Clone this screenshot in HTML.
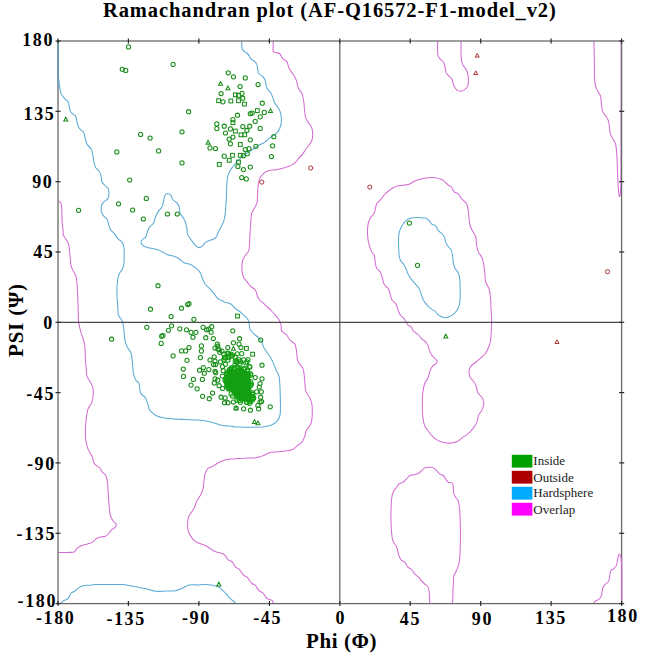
<!DOCTYPE html><html><head><meta charset="utf-8"><style>
html,body{margin:0;padding:0;background:#fff;width:645px;height:660px;overflow:hidden;position:relative}
.t{position:absolute;font-family:"Liberation Serif",serif;font-weight:bold;color:#000;white-space:nowrap;line-height:1}
.yl{text-align:right;width:60px}
.xl{text-align:center;width:60px}
.lg{position:absolute;font-family:"Liberation Serif",serif;font-size:13px;color:#222;line-height:1;white-space:nowrap}
</style></head><body>
<svg width="645" height="660" viewBox="0 0 645 660" style="position:absolute;left:0;top:0">
<path d="M58,41C58,42.9 58,48.8 58,52.7C58,56.6 58,60.4 58,64.3C58,68.2 57.9,73.4 58,76C58.1,78.6 58.5,78 58.8,80C59.1,82 59.4,85.9 59.8,88.2C60.2,90.5 60.3,91.9 61.1,93.6C61.9,95.3 63.4,97 64.5,98.4C65.7,99.8 67.2,100.4 68,101.8C68.8,103.2 68.8,104.9 69.3,106.6C69.8,108.3 69.7,110.4 70.7,112C71.7,113.6 74.5,114.6 75.5,116.1C76.5,117.6 76.2,119 76.8,120.9C77.4,122.8 77.8,125.8 78.9,127.7C80,129.6 82.6,130.9 83.6,132.5C84.6,134.1 84.4,135.4 85,137.3C85.6,139.2 86,142.2 87,144.1C88,146 90.2,147.3 91.1,148.9C92,150.5 92,151.4 92.5,153.6C93,155.8 93.5,159.9 93.9,161.8C94.3,163.7 94.4,164 94.7,165C95,166 95,166.8 95.8,167.8C96.5,168.9 98.3,170.1 99.2,171.3C100.1,172.5 100.4,173.4 100.9,175.2C101.4,177 101.3,180.3 102,182C102.7,183.7 103.9,184.3 104.9,185.5C106,186.7 107.6,187.4 108.3,188.9C109,190.4 109,192.8 108.9,194.5C108.8,196.2 108.6,197.9 107.7,199.1C106.8,200.3 104.8,200.8 103.8,201.9C102.8,203 101.9,204.3 101.5,205.9C101.1,207.5 101.1,209.9 101.5,211.6C101.9,213.3 102.8,214.8 103.8,216.1C104.8,217.4 106.3,218 107.2,219.5C108.1,221 108.3,223.5 108.9,225.2C109.5,226.9 109.8,228.5 110.6,229.8C111.4,231.1 113,232.1 114,233.2C115,234.3 115.6,235.6 116.3,236.6C117,237.6 117.1,238 118,238.9C118.9,239.8 120.9,240.8 121.9,242.1C122.9,243.4 123.4,244.6 123.8,246.6C124.2,248.6 124.2,251.3 124.2,254.3C124.2,257.3 124.2,262 123.8,264.6C123.4,267.2 122.7,268.3 121.9,269.8C121.2,271.3 120,272.2 119.3,273.7C118.6,275.2 118.2,276.7 117.8,278.8C117.4,280.9 117.1,283.5 117,286.5C116.9,289.5 116.9,293.4 117,296.9C117.1,300.3 117.6,304.2 117.8,307.2C118,310.2 117.7,312.6 118.4,315C119.2,317.4 121.4,319 122.3,321.4C123.2,323.8 123.5,326.4 123.9,329.3C124.3,332.2 124.2,336 124.7,338.9C125.2,341.8 126,344.4 127.1,346.8C128.2,349.2 130.2,350.6 131.1,353.2C132,355.8 132,359.2 132.4,362.7C132.8,366.1 132.9,371 133.5,373.9C134.1,376.8 135,378.6 135.9,380.2C136.8,381.8 138.2,381.3 139,383.4C139.8,385.5 139.5,390.6 140.6,393C141.7,395.4 144.2,395.8 145.4,397.7C146.6,399.6 147.1,402.1 147.8,404.1C148.5,406.1 148.5,408.1 149.4,409.7C150.3,411.3 152.1,412.6 153.4,413.6C154.7,414.7 155.7,415.4 157,416C158.3,416.6 158.7,416.7 161,417.2C163.3,417.7 168.2,418.5 171.1,418.8C174,419.1 175.8,419.1 178.1,419.2C180.5,419.3 182.7,419.5 185.2,419.6C187.7,419.7 190.6,419.8 193.3,419.9C196,420 198.4,419.8 201.4,420.2C204.4,420.6 208.2,421.4 211.5,422.2C214.8,423 218.7,424.6 221.5,425.2C224.3,425.8 226.2,425.8 228.6,426C230.9,426.3 233.2,426.7 235.6,426.9C238,427.1 240.3,427 242.7,427.1C245.1,427.2 246.6,427.3 249.8,427.3C253,427.3 258.4,427.2 261.9,426.9C265.4,426.5 268.4,426.1 270.9,425.2C273.4,424.2 275.5,422.9 277,421.2C278.5,419.5 279.4,417.4 280,415.2C280.6,413 280.3,410.2 280.4,408C280.5,405.8 280.4,404 280.4,401.8C280.4,399.6 280.3,397 280.2,394.6C280.1,392.1 280.2,390.3 280,387.3C279.8,384.3 279.7,379.1 279.1,376.4C278.5,373.7 277.3,373 276.4,370.9C275.5,368.8 274.5,365.7 273.6,363.6C272.7,361.5 271.9,360 270.9,358.2C269.8,356.4 268.5,354.5 267.3,352.7C266.1,350.9 264.5,349.1 263.6,347.3C262.7,345.5 262.7,343.5 261.8,341.8C260.9,340.1 259.6,338.7 258.2,337.3C256.8,335.9 255,335 253.6,333.6C252.2,332.2 250.8,330.9 250,329.1C249.2,327.3 249.5,324.5 249.1,322.7C248.7,320.9 248.2,319.7 247.3,318.5C246.4,317.3 245,316.4 243.8,315.3C242.6,314.2 241.4,312.9 240,311.7C238.6,310.5 236.7,309.6 235.2,308.4C233.7,307.2 233,305.4 231.2,304.3C229.4,303.2 226.8,302.8 224.6,301.9C222.4,300.9 219.8,300 218.1,298.6C216.3,297.2 215.4,295.3 214.1,293.7C212.8,292.1 211.5,290.4 210,288.8C208.5,287.2 206.3,285.6 205.1,284C203.9,282.4 203.5,281 202.7,279.1C201.9,277.2 201.4,274.5 200.2,272.6C199,270.7 196.9,269.1 195.3,267.7C193.7,266.3 192.4,265.2 190.5,264.4C188.6,263.6 185.9,263.8 184,262.8C182.1,261.9 180.7,259.8 179.1,258.7C177.5,257.6 176.1,257 174.2,256.3C172.3,255.6 169.6,255.4 167.7,254.7C165.8,254 164.4,253 162.8,252.2C161.2,251.4 160.1,250.5 157.9,249.8C155.7,249.1 152.1,248.7 149.8,248.1C147.5,247.5 145.7,247.2 144.3,246.4C142.9,245.6 141.6,244.6 141.2,243.5C140.8,242.4 141.2,241.1 142,240C142.8,238.9 145,238.3 145.9,236.9C146.8,235.5 146.8,233.2 147.4,231.5C148,229.8 148.7,228.3 149.7,226.9C150.7,225.5 152.6,224.8 153.6,223C154.6,221.2 155.1,217.9 155.9,216C156.7,214.1 157.3,213 158.3,211.4C159.3,209.8 161.2,208.5 162.1,206.7C163,204.9 163.2,202.4 163.7,200.5C164.2,198.6 164.5,196.3 165.2,195.1C165.8,193.9 166.7,193.5 167.6,193.5C168.5,193.5 169.8,194.1 170.7,195.1C171.6,196.1 172,198.4 173,199.7C174,201 175.9,201.6 176.9,202.8C177.9,204 178.7,205 179.2,206.7C179.7,208.4 179.3,211.1 180,212.9C180.7,214.7 182.2,216.1 183.1,217.6C184,219.1 184.8,220.4 185.4,222.2C186,224 186.5,226.3 186.9,228.4C187.3,230.5 187,232.8 187.7,234.6C188.3,236.4 189.6,237.6 190.8,239.3C192,241 193.4,243.3 194.7,244.7C196,246.1 197.3,247.3 198.6,247.6C199.9,247.8 201.2,247.1 202.4,246.2C203.6,245.3 204.1,243.4 205.5,242.4C206.9,241.4 209.3,240.8 211,240C212.7,239.2 214.3,239.1 215.6,237.7C216.9,236.3 217.8,233.3 218.7,231.5C219.6,229.7 220.2,228.5 221,226.9C221.8,225.3 222.8,224 223.4,222.2C224.1,220.4 224.5,218.3 224.9,216C225.3,213.7 225.5,210.9 225.7,208.3C225.9,205.7 226.1,202.7 226.2,200.5C226.3,198.3 226.3,197.7 226.4,195C226.5,192.3 226.6,187.3 226.8,184.4C227,181.5 227.2,179.6 227.6,177.6C228,175.6 228.3,174 229.1,172.3C229.8,170.7 231.1,169.1 232.1,167.7C233.1,166.3 234.2,165.2 235.2,163.9C236.2,162.7 236.9,161.4 238.2,160.2C239.4,158.9 241.1,157.7 242.7,156.4C244.3,155.1 246.3,153.8 248,152.6C249.7,151.4 250.9,150.6 252.6,149.5C254.2,148.4 256,146.9 257.9,145.8C259.8,144.7 262.1,143.8 263.9,142.7C265.7,141.5 267.2,139.9 268.5,138.9C269.8,137.9 270.1,137.7 271.5,136.7C272.9,135.7 275.4,134.3 276.8,132.9C278.2,131.5 279,130.3 279.8,128.3C280.6,126.3 281.3,123.3 281.4,120.8C281.5,118.3 281.1,115.3 280.6,113.2C280.1,111.1 279.3,109.7 278.3,107.9C277.3,106.1 275.4,104.4 274.5,102.6C273.6,100.8 273.4,98.8 272.7,97.1C272,95.4 271.4,93.9 270.5,92.5C269.6,91.1 268.1,90.2 267.3,88.9C266.5,87.6 266.3,85.9 265.9,84.4C265.5,82.9 265.6,81.2 265,79.8C264.4,78.4 263.4,77.2 262.3,76.2C261.2,75.2 259.4,74.7 258.6,73.5C257.8,72.3 258,70.4 257.7,68.9C257.4,67.4 257.4,65.7 256.8,64.4C256.2,63.1 255.1,62.1 254.1,61.2C253.1,60.3 251.7,59.7 250.9,58.9C250.1,58.1 250.2,57.2 249.5,56.2C248.8,55.2 247.9,53.9 246.8,53C245.8,52.1 244,51.7 243.2,50.7C242.4,49.7 242,48.7 241.8,47.1C241.6,45.5 241.8,42 241.8,41" fill="none" stroke="#5aaad6" stroke-width="1.05"/>
<path d="M58.2,603.3C58.7,603.3 60.6,603.7 61.4,603.3C62.2,602.9 62.2,601.6 63.2,600.9C64.2,600.2 66.4,599.8 67.4,599.1C68.4,598.4 68.6,597.7 69.2,596.7C69.8,595.7 70.2,593.9 71.1,593C72,592.1 73.5,592 74.7,591.2C75.9,590.4 77,589.1 78.3,588.2C79.6,587.3 80.7,586.3 82.6,585.8C84.5,585.3 87.8,585.4 89.8,585.2C91.8,585 92.2,584.7 94.7,584.6C97.2,584.5 101.8,584.5 105,584.5C108.2,584.5 110.9,584.5 113.8,584.5C116.7,584.6 119.7,584.4 122.6,584.6C125.5,584.8 128.2,585.5 130.9,586C133.7,586.5 136.5,586.8 139.3,587.4C142.1,588 144.9,588.7 147.7,589.3C150.5,590 153.1,591 156.1,591.3C159.1,591.6 162.6,591.1 165.8,591C169.1,590.9 172.8,591.2 175.6,590.7C178.4,590.2 180.2,588.8 182.6,587.9C184.9,587 186.9,585.6 189.5,585.1C192.1,584.6 195.1,584.9 197.9,584.9C200.7,584.8 203,584.3 206.3,584.6C209.6,584.9 214.2,585 217.5,586.5C220.8,588 224,591.7 225.8,593.5C227.7,595.3 227.2,595.7 228.6,597.1C230,598.5 233.2,601 234.4,602C235.6,603 235.3,603.1 235.5,603.3" fill="none" stroke="#5aaad6" stroke-width="1.05"/>
<path d="M404.2,222.4C404.9,221.8 406.7,219.8 408.3,219C409.9,218.2 411.8,217.9 413.8,217.7C415.9,217.5 418.6,217.6 420.6,217.7C422.7,217.8 424.7,217.9 426.1,218.3C427.5,218.8 427.9,219.5 428.8,220.4C429.7,221.3 430.4,222.9 431.5,223.8C432.6,224.7 434.5,224.7 435.6,225.8C436.8,226.9 437.2,229.2 438.4,230.6C439.5,232 441.5,232.9 442.5,234C443.5,235.1 443.9,235.9 444.5,237.4C445.1,238.9 445.2,241.3 445.9,242.9C446.6,244.5 447.7,245.8 448.6,247C449.5,248.2 450.7,248.8 451.4,250.4C452.1,252 452.4,254.4 452.7,256.5C453,258.6 453,261.3 453.4,263.2C453.8,265.1 454,266.4 454.8,268C455.6,269.6 457.4,270.8 458.2,272.7C459,274.6 459.5,276.6 459.8,279.5C460.1,282.4 460.2,286.8 460.2,290.4C460.2,294 460.2,298.3 459.9,301.3C459.6,304.3 459.2,306.1 458.2,308.2C457.2,310.2 455.7,312.1 454.1,313.6C452.5,315.1 450.2,316.3 448.6,317C447,317.7 445.9,317.8 444.5,317.7C443.1,317.6 441.8,317 440.5,316.3C439.2,315.6 437.9,314.5 437,313.6C436.1,312.8 436.1,312.1 435,311.2C433.9,310.3 432.2,309.8 430.5,308.4C428.8,307 426.3,304.2 425,302.6C423.7,301 423.6,300.3 422.9,298.8C422.2,297.3 421.6,295.3 421,293.6C420.4,291.9 420,290 419.1,288.5C418.2,287 417,285.9 415.9,284.6C414.8,283.3 413.8,282.3 412.6,280.8C411.4,279.3 409.9,277.5 408.8,275.6C407.7,273.7 407.1,271.1 406.2,269.2C405.3,267.3 404.6,265.5 403.6,264C402.6,262.5 401.1,261.7 400.4,260.2C399.6,258.7 399.4,257.9 399.1,255C398.8,252.1 398.6,246.3 398.5,242.9C398.4,239.5 398.4,237.2 398.8,234.7C399.2,232.2 399.9,229.9 400.8,227.9C401.7,225.9 403.6,223.3 404.2,222.4" fill="none" stroke="#5aaad6" stroke-width="1.05"/>
<path d="M273.2,41C273.2,41.8 273.2,44.3 273.2,46C273.2,47.7 272.8,50.1 273.2,51.2C273.6,52.3 274.8,52.1 275.9,52.5C276.9,52.9 278.6,52.9 279.5,53.5C280.4,54.1 280.9,55.4 281.4,56.2C281.9,57.1 282.1,57.9 282.7,58.6C283.3,59.3 284.2,59.7 285,60.3C285.8,60.9 286.6,60.9 287.3,62.3C288,63.7 288.1,66.5 289.1,68.6C290.2,70.7 292.4,73 293.6,75C294.8,77 295.6,78.4 296.4,80.5C297.2,82.6 297.3,85.6 298.2,87.7C299.1,89.8 300.9,91.1 301.8,93.2C302.7,95.3 303.2,97.8 303.6,100.5C304.1,103.2 304.2,106.8 304.5,109.5C304.8,112.2 304.9,114.7 305.5,116.8C306.1,118.9 307.1,120.5 308.2,122.3C309.2,124.1 311.1,125.6 311.8,127.7C312.6,129.8 312.7,132.9 312.7,135C312.7,137.1 312.4,138.8 311.8,140.5C311.2,142.2 310.2,143.5 309.1,145C308.1,146.5 306.6,148 305.5,149.5C304.4,151 303.8,152.7 302.7,154.1C301.6,155.5 300.3,156.3 299.1,157.7C297.9,159.1 297,160.9 295.5,162.3C294,163.7 291.7,165 290,165.9C288.3,166.8 287.3,166.9 285.2,167.5C283.1,168.1 280.4,168.9 277.6,169.5C274.8,170.1 270.9,170.1 268.5,170.8C266.1,171.5 264.6,172.7 263.2,173.8C261.8,174.9 261,176.1 260.2,177.6C259.4,179.1 259,181 258.6,182.9C258.2,184.8 258.1,186.9 257.9,188.9C257.7,190.9 257.6,192.7 257.5,195C257.4,197.3 257.6,200.5 257.1,202.7C256.6,204.9 255.3,206.4 254.4,208.2C253.5,210 252.2,211.2 251.6,213.6C251,216 250.9,220 250.7,222.7C250.5,225.4 250.4,227.6 250.2,230C250.1,232.4 250,234 249.8,237.3C249.6,240.6 249.7,247 248.9,250C248.2,253 246.4,253.7 245.3,255.5C244.2,257.3 243.1,258.5 242.5,260.9C241.9,263.3 241.8,267.3 242,270C242.2,272.7 242.7,275.3 243.5,277.3C244.3,279.3 245.9,280.3 247.1,281.8C248.3,283.3 249.3,285 250.7,286.4C252.1,287.8 254.1,288.2 255.3,290C256.5,291.8 257.2,295.6 258,297.3C258.8,299.1 259,299.4 260,300.5C261,301.6 262.5,302.4 263.8,303.6C265.1,304.8 266.7,306.3 268,307.5C269.3,308.7 270.2,309.7 271.5,311C272.8,312.3 274.2,314 275.5,315.5C276.8,317 278.1,318.2 279,319.8C279.9,321.4 280.6,323.3 281,325C281.4,326.7 281,328.7 281.4,330C281.8,331.3 282.7,331.9 283.6,332.7C284.5,333.5 286,334.1 286.8,335C287.6,335.9 287.8,337.1 288.6,338.2C289.4,339.3 290.4,340.5 291.4,341.4C292.4,342.3 293.8,342.6 294.5,343.6C295.2,344.6 295.5,345.6 295.9,347.3C296.3,349 296.6,351.6 296.8,353.6C297,355.6 296.9,357.4 297.3,359.1C297.7,360.8 298.3,362.2 299.1,363.6C299.9,365 301.6,366.1 302.3,367.3C303.1,368.5 303.2,369.2 303.6,370.9C304,372.6 304.2,375 304.4,377.3C304.6,379.6 304.8,382.3 305,384.5C305.2,386.7 305.2,388.9 305.7,390.7C306.2,392.5 307.2,393.9 308,395.2C308.8,396.5 309.6,397.1 310.2,398.6C310.8,400.1 311.5,402 311.9,404.3C312.2,406.6 312.4,409.5 312.3,412.3C312.2,415.1 312.1,418.9 311.6,421.4C311.1,423.8 310,425.5 309.1,427C308.2,428.5 307,429 306.3,430.5C305.6,432 305.5,434.2 304.8,436.1C304.1,438 303.2,440.5 302.3,441.8C301.4,443.1 300.4,443.2 299.4,444.1C298.3,445 297.2,445.9 296,446.9C294.8,447.8 293.6,449.2 292,449.8C290.4,450.4 288.3,450.4 286.4,450.7C284.5,451 282.6,451.3 280.7,451.5C278.8,451.7 276.8,451.8 275,452C273.2,452.2 271.9,451.9 270,452.5C268.1,453.1 265.9,454.6 263.6,455.5C261.3,456.4 259.7,457.2 256.4,457.6C253.1,458.1 247.8,457.9 243.6,458.2C239.3,458.4 234.2,458.7 230.9,459.1C227.6,459.5 225.7,459.8 223.6,460.4C221.5,461 220,461.7 218.2,462.7C216.4,463.7 214.4,465.5 212.7,466.4C211,467.3 209.4,467.1 208.2,468.2C207,469.2 206.2,470.7 205.5,472.7C204.8,474.7 204.4,477.6 204,480C203.6,482.4 203.8,484.9 203.3,487.3C202.8,489.7 201.9,492.4 200.9,494.5C199.9,496.6 198.4,497.9 197.3,500C196.2,502.1 195.4,505.3 194.5,507.3C193.6,509.3 192.8,510.3 191.8,511.8C190.8,513.3 189.4,514.4 188.7,516.4C188,518.4 187.7,521.2 187.6,523.6C187.5,526 187.6,528.8 188.2,530.9C188.8,533 189.8,534.7 190.9,536.4C192,538.1 193,539.7 194.5,540.9C196,542.1 198.2,542.8 200,543.6C201.8,544.4 203.7,544.6 205.5,545.5C207.3,546.4 209.3,548.1 210.9,549.1C212.5,550.1 213.4,550.8 215,551.5C216.6,552.2 219,552.6 220.4,553.1C221.8,553.6 222.8,553.7 223.7,554.2C224.6,554.8 225.2,555.5 225.9,556.4C226.6,557.3 227.1,558.9 228,559.7C228.9,560.5 230.4,560.7 231.3,561.3C232.2,561.9 232.8,562.5 233.5,563.5C234.2,564.5 234.7,566.3 235.6,567.2C236.5,568.1 238,568.2 238.9,568.9C239.8,569.6 240.2,570.5 241,571.6C241.8,572.7 242.7,574.4 243.8,575.4C244.9,576.4 246.6,576.7 247.6,577.6C248.6,578.5 249,579.8 249.7,580.8C250.4,581.8 251,582.8 251.9,583.5C252.8,584.2 254.3,584.4 255.2,585.2C256.1,586 256.6,587.4 257.3,588.4C258,589.4 258.6,590.4 259.5,591.1C260.4,591.8 261.9,592.1 262.8,592.8C263.7,593.5 264.2,594.5 264.9,595.5C265.6,596.5 266.2,598 267.1,598.7C268,599.4 269.5,599.4 270.4,599.8C271.3,600.2 272,600.3 272.5,600.9C273,601.5 273.4,603.1 273.6,603.6" fill="none" stroke="#d46cd4" stroke-width="1.05"/>
<path d="M58.5,200.9C58.9,201.3 60.4,202.2 60.9,203.2C61.4,204.2 61.4,205.1 61.6,207C61.8,208.9 61.8,212.2 61.9,214.8C62,217.4 62,219.8 62.2,222.6C62.4,225.4 63,229.8 63.2,231.9C63.4,234 62.9,233.8 63.3,235C63.7,236.2 64.7,237.3 65.6,238.8C66.5,240.3 67.9,241.7 68.6,244.1C69.3,246.5 69.4,249.7 69.8,253.2C70.2,256.7 70.2,262.1 70.9,265.3C71.6,268.5 73,270.1 73.9,272.1C74.8,274.1 75.6,274.5 76.2,277.4C76.8,280.3 77.1,285.2 77.4,289.5C77.7,293.8 77.9,299.4 78,303.2C78.1,307 78.2,309.3 78.2,312.3C78.3,315.3 78.2,318.6 78.5,321.4C78.8,324.2 79.3,326.1 80,328.9C80.7,331.6 82,335.1 82.8,337.9C83.6,340.7 84.4,342.2 84.8,345.8C85.2,349.4 85.2,355.9 85.4,359.5C85.6,363.1 85.8,364.8 86.1,367.4C86.3,370 86.1,373 86.7,375.3C87.3,377.6 88.7,379.2 89.7,381.2C90.7,383.2 92.1,384.8 92.7,387.1C93.3,389.4 93.4,392.4 93.2,395C93,397.6 92.6,400.6 91.7,402.9C90.8,405.2 89,406.2 88.1,408.8C87.2,411.4 86.7,415 86.2,418.6C85.8,422.2 85.5,426.9 85.4,430.5C85.3,434.1 85.4,437.4 85.8,440.3C86.2,443.2 86.9,445.9 87.7,448.2C88.5,450.5 89.9,452.6 90.7,454.1C91.5,455.6 91.9,455.5 92.4,457C93,458.5 93.2,461.5 94,463C94.8,464.5 96.2,465.2 97.2,466.1C98.2,467 99.5,467.6 100.3,468.5C101.1,469.4 101,470.5 101.9,471.7C102.8,472.9 105,474 105.9,475.7C106.8,477.4 107.1,478.8 107.5,482C107.9,485.2 108,490.8 108.3,494.8C108.6,498.8 108.8,502.4 109.1,505.9C109.4,509.3 109.7,513 110.4,515.5C111.1,518 112.1,519.5 113.1,521C114.1,522.5 115.9,523.1 116.2,524.2C116.5,525.3 115.9,526.5 115.1,527.4C114.3,528.3 112.5,528.9 111.5,529.8C110.5,530.7 110,532 109.1,533C108.2,534 107.2,535.5 105.9,536.1C104.6,536.8 102.7,536.5 101.1,536.9C99.5,537.3 97.7,537.7 96.4,538.5C95.1,539.3 94.3,540.9 93.2,541.7C92.1,542.5 91.6,542.8 90,543.3C88.4,543.8 85.3,544.4 83.6,544.9C81.9,545.4 80.9,545.8 79.7,546.5C78.5,547.2 77.4,548 76.5,548.9C75.6,549.8 75.6,551.4 74.1,552C72.6,552.6 70.3,552.3 67.7,552.4C65.1,552.5 60,552.4 58.5,552.4" fill="none" stroke="#d46cd4" stroke-width="1.05"/>
<path d="M437.3,361.1C436.9,360.7 435.9,359.5 435,358.5C434.1,357.5 432.6,356.6 431.6,355C430.6,353.4 429.6,350.8 428.9,348.9C428.2,347 428.1,345.1 427.2,343.7C426.3,342.2 424.6,341 423.7,340.2C422.8,339.4 422.4,339.5 421.6,338.7C420.8,337.9 420,336.4 419.1,335.5C418.2,334.6 417.5,334.2 416.5,333.5C415.5,332.8 414.2,332.1 413.3,331C412.4,329.9 412.3,328.1 411.4,327.1C410.5,326.1 409,326.1 408.1,325.2C407.2,324.3 406.9,323.2 406.2,322C405.4,320.8 404.7,319.4 403.6,318.1C402.5,316.8 400.8,315.7 399.8,314.2C398.8,312.7 398.5,310.8 397.8,309.1C397.1,307.4 396.9,305.4 395.9,303.9C394.9,302.4 393,301.8 392,300.1C391,298.4 390.7,295.5 390.1,293.6C389.5,291.7 389.2,290 388.2,288.5C387.2,287 385.3,286.3 384.3,284.6C383.3,282.9 383,280.2 382.4,278.2C381.8,276.2 381.5,274.1 380.5,272.4C379.5,270.7 377.5,269.5 376.6,267.9C375.7,266.3 375.7,264.8 375.3,262.7C374.9,260.6 374.7,256.5 374.3,255C373.9,253.5 373.6,254.9 372.9,253.8C372.2,252.7 371,250.6 370.2,248.3C369.4,246 368.6,242.8 368.1,240.1C367.7,237.4 367.5,234.7 367.5,232C367.5,229.3 367.7,226.1 368.1,223.8C368.6,221.5 369.5,219.7 370.2,218.3C370.9,216.9 371.5,216.5 372.2,215.6C372.9,214.7 373.7,214.3 374.3,212.9C374.9,211.5 375.2,209 375.6,207.4C376.1,205.8 376.3,204.4 377,203.3C377.7,202.2 378.7,201.7 379.7,200.6C380.7,199.5 382.1,197.8 383.1,196.5C384.1,195.2 384.9,194.1 385.9,193.1C386.9,192.1 388.1,191.3 389.3,190.4C390.5,189.5 392,188.4 393.3,187.7C394.6,187 395.8,186.4 397.4,186C399,185.6 401,185.5 402.9,185.2C404.8,184.9 407.2,184.9 409,184.3C410.8,183.7 412.1,182.3 413.8,181.5C415.5,180.7 416.9,180.1 419.2,179.5C421.5,178.9 424.7,178 427.4,177.7C430.1,177.4 433.2,177.4 435.6,177.7C438,178 440.2,178.8 441.8,179.5C443.4,180.2 444.2,181.3 445.2,182.2C446.2,183.1 446.9,184.1 447.9,184.9C448.9,185.7 450.4,185.8 451.4,187C452.4,188.2 453,190.7 454.1,191.8C455.2,192.9 457.1,192.8 458.2,193.8C459.3,194.8 460,196.8 460.9,197.9C461.8,199 462.6,199.5 463.6,200.6C464.6,201.7 466.2,202.9 467,204.7C467.8,206.5 468,209 468.4,211.5C468.8,214 468.8,217.2 469.1,219.7C469.4,222.2 469.7,224.4 470.4,226.5C471.1,228.6 472.3,230.2 473.2,232C474.1,233.8 475.3,235.1 475.9,237.4C476.5,239.7 476.2,243.1 476.6,245.6C477.1,248.1 477.7,250.4 478.6,252.4C479.5,254.4 481.2,255.9 482,257.7C482.8,259.5 482.9,260.9 483.4,263.2C483.8,265.5 484.4,268.4 484.7,271.4C485,274.3 484.9,278.5 485.4,280.9C485.9,283.3 486.8,284.1 487.5,285.7C488.2,287.3 489,288.2 489.5,290.4C490,292.5 490.3,295.4 490.6,298.6C490.9,301.8 490.9,305.9 491.1,309.5C491.3,313.1 491.6,316.8 491.6,320.4C491.6,324 491.5,327.7 491.3,331.3C491.1,334.9 490.8,339.2 490.3,342C489.8,344.8 489,346.2 488.2,348.1C487.4,350 486.8,351.7 485.6,353.3C484.4,354.9 482.8,356.2 481.2,357.7C479.6,359.1 477.7,360.6 476,362C474.3,363.4 472,364.9 470.8,366.4C469.6,367.8 469.1,369 469,370.7C468.9,372.4 469.2,375.1 469.9,376.8C470.6,378.6 472.4,379.8 473.4,381.2C474.4,382.6 475.3,383.6 476,385.5C476.7,387.4 476.7,390.5 477.7,392.5C478.7,394.5 481.1,395.9 482.1,397.7C483.1,399.4 483.8,401 483.8,403C483.8,405 483,407.9 482.1,409.9C481.2,411.9 479.5,413.2 478.6,415.2C477.7,417.2 477.9,419.8 476.9,422.1C475.9,424.4 474.1,427.1 472.5,429.1C470.9,431.1 469.1,432.9 467.3,434.3C465.6,435.8 463.6,436.6 462,437.8C460.4,439 459.4,440.4 457.7,441.3C456,442.2 453.8,442.8 451.6,443C449.4,443.2 446.9,443.1 444.6,442.7C442.3,442.3 439.7,441.5 437.7,440.4C435.7,439.3 434,437.7 432.4,436.1C430.8,434.5 429.4,432.6 428.1,430.8C426.8,429.1 425.5,427.9 424.6,425.6C423.7,423.3 423.2,420.4 422.8,416.9C422.4,413.4 422.3,408.8 422.3,404.7C422.3,400.6 422.4,396 422.8,392.5C423.2,389 423.7,386.3 424.6,383.8C425.5,381.3 427.2,379.7 428.1,377.7C429,375.7 429.1,373.5 429.8,371.6C430.5,369.7 431.4,367.7 432.4,366.4C433.4,365.1 435.1,364.7 435.9,363.8C436.7,362.9 437.1,361.6 437.3,361.1" fill="none" stroke="#d46cd4" stroke-width="1.05"/>
<path d="M429.7,603.6C429.7,602.7 429.8,600.1 429.7,598C429.6,595.9 429.3,592.7 429,590.8C428.7,588.9 428.5,587.6 427.8,586.5C427.1,585.4 425.7,584.9 424.7,584C423.7,583.1 422.6,582 421.6,580.9C420.6,579.8 419.6,578.3 418.5,577.2C417.4,576.1 415.9,575.4 414.8,574.1C413.7,572.9 412.9,570.9 411.7,569.7C410.5,568.6 409,568.4 407.9,567.2C406.8,566 405.9,563.5 404.8,562.3C403.7,561.1 402.1,561 401.1,559.8C400.1,558.5 399.3,556.9 398.6,554.8C397.9,552.7 397.7,549.7 396.8,547.4C395.9,545.1 393.9,543.3 393.1,541.2C392.3,539.1 392.2,538.2 391.8,535C391.4,531.8 391.1,526.2 391,522C390.9,517.8 390.9,513.7 391,509.6C391.1,505.5 391.4,500.3 391.8,497.2C392.2,494.1 392.9,492.6 393.7,491C394.5,489.4 395.9,488.5 396.8,487.3C397.7,486.1 398.2,484.5 399.3,483.6C400.4,482.7 402.3,482.6 403.6,481.7C404.9,480.8 406.3,479 407.3,478C408.3,477 408.6,476.1 409.8,475.5C411.1,474.9 413.2,475 414.8,474.6C416.4,474.2 417.9,473.8 419.1,473C420.3,472.2 421.2,470.8 422.2,469.9C423.2,469 424.1,468.1 425.3,467.7C426.6,467.2 428.2,467.1 429.7,467.2C431.1,467.3 432.8,467.4 434,468.1C435.2,468.8 436.1,470.2 437.1,471.2C438.1,472.2 439.2,473.6 440.2,474.3C441.2,475 442.4,474.7 443.3,475.5C444.2,476.3 445,478.1 445.8,479.2C446.6,480.3 447.3,481.7 448.3,482.3C449.3,482.9 451.2,482.3 452,482.9C452.8,483.5 452.9,484.2 453.2,486C453.5,487.8 453.4,491.6 453.8,493.5C454.2,495.4 455,496 455.7,497.2C456.4,498.4 457.6,499.2 458.2,500.9C458.8,502.5 459.1,504.6 459.4,507.1C459.7,509.6 459.8,512.3 460,515.8C460.2,519.3 460.3,524 460.4,528.2C460.5,532.4 460.5,537 460.4,541.2C460.3,545.4 460.2,550.1 460,553.6C459.8,557.1 459.8,559.4 459.2,562.3C458.6,565.2 457.2,568.7 456.3,571C455.4,573.3 454.3,573.8 453.8,575.9C453.3,578 453.5,580.9 453.4,583.3C453.3,585.8 453.1,587.4 453,590.8C452.9,594.2 452.7,601.5 452.6,603.6" fill="none" stroke="#d46cd4" stroke-width="1.05"/>
<path d="M437.6,41C437.6,42.4 437.5,46.8 437.6,49.2C437.7,51.7 437.6,54.1 438,55.7C438.4,57.3 439.1,57.7 440.1,58.9C441.1,60.1 443,61.2 443.8,62.7C444.6,64.2 444.8,66.1 445.2,67.8C445.6,69.5 445.6,71.6 446.1,72.9C446.7,74.2 447.6,74.7 448.5,75.7C449.4,76.7 450.9,77.6 451.7,78.9C452.5,80.2 452.6,82.1 453.1,83.6C453.7,85.1 454.2,86.6 455,87.8C455.8,89 456.8,90 457.8,90.6C458.8,91.2 459.9,91.4 461,91.2C462.1,91 463.6,90.4 464.7,89.6C465.8,88.8 466.9,87.9 467.5,86.4C468.1,84.9 468.4,82.7 468.5,80.8C468.6,78.9 468.4,77.1 468,75.2C467.6,73.3 467,71.3 466.1,69.6C465.2,67.9 463.7,66.5 462.9,65C462.1,63.5 461.8,62.5 461.5,60.3C461.2,58.1 461.1,55.2 461,52C460.9,48.8 461,42.8 461,41" fill="none" stroke="#d46cd4" stroke-width="1.05"/>
<path d="M593.9,41C593.9,42.5 594,46.8 594.1,49.8C594.2,52.7 594.2,55.3 594.3,58.5C594.3,61.7 594.4,65.3 594.4,68.7C594.4,72.1 594.2,75.8 594.5,78.9C594.8,82 595.2,84.8 595.9,87.1C596.6,89.4 597.8,90.9 598.6,92.5C599.4,94.1 600.2,94.5 600.7,96.6C601.2,98.6 601.1,102.3 601.4,104.8C601.7,107.3 601.9,109.7 602.7,111.6C603.5,113.5 605.2,114.9 606.1,116.4C607,117.9 607.7,118.7 608.3,120.5C608.9,122.3 609.2,125.2 609.5,127.3C609.8,129.4 609.6,131.3 610.2,133.3C610.8,135.3 612.3,137.6 613.2,139.4C614.1,141.2 615,142.2 615.6,144.2C616.2,146.2 616.4,148.9 616.6,151.5C616.9,154.1 617,157.2 617.1,160C617.2,162.8 617.3,165.5 617.4,168.5C617.5,171.5 617.6,175 617.8,178.2C617.9,181.4 618.1,185.1 618.3,187.9C618.5,190.7 618.8,193.8 619,195.2C619.2,196.6 619.5,196.8 619.8,196.4C620,196 620.3,194.6 620.5,192.7C620.7,190.8 620.7,187.5 620.8,185C620.9,182.5 620.9,180 620.9,177.5C620.9,175 621,173.4 621,170C621,166.6 621,161.4 621,157.1C621,152.8 621,148.5 621,144.2C621,139.9 621,135.6 621,131.3C621,127 621,122.7 621,118.4C621,114.1 621,109.8 621,105.5C621.1,101.2 621.1,96.9 621.1,92.6C621.1,88.3 621.1,84 621.1,79.7C621.1,75.4 621.1,71.1 621.1,66.8C621.1,62.5 621.1,58.2 621.1,53.9C621.1,49.6 621.1,43.1 621.1,41" fill="none" stroke="#d46cd4" stroke-width="1.05"/>
<path d="M593.6,603.3C593.9,602.9 594.5,601.6 595.4,600.9C596.3,600.2 598.1,600 599.1,599.1C600.1,598.2 600.9,597.2 601.5,595.4C602.1,593.6 602.1,590 602.7,588.2C603.3,586.4 604.1,585.7 605.1,584.5C606.1,583.3 607.9,583.1 608.8,580.9C609.7,578.7 609.8,573.2 610.6,571.2C611.4,569.2 612.6,569.8 613.6,568.8C614.6,567.8 615.9,566.9 616.6,565.1C617.3,563.3 617.5,559.7 617.9,557.9C618.3,556.1 618.6,554.5 619.1,554.2C619.6,553.9 620.2,554.7 620.6,556C621,557.3 621.2,558.8 621.4,562C621.6,565.2 621.7,571.3 621.7,575C621.8,578.7 621.7,581.3 621.7,584.4C621.7,587.6 621.7,590.7 621.7,593.9C621.7,597 621.7,601.7 621.7,603.3" fill="none" stroke="#d46cd4" stroke-width="1.05"/>
<g stroke="#6a6a6a" stroke-width="1.3" fill="none">
<rect x="58.0" y="41.0" width="563.6" height="562.6"/>
<line x1="339.8" y1="41.0" x2="339.8" y2="603.6"/>
</g>
<line x1="58.0" y1="322.4" x2="621.6" y2="322.4" stroke="#4a4a4a" stroke-width="1.1"/>
<g stroke="#2a2a2a" stroke-width="1.2" fill="none">
<line x1="58.0" y1="38.4" x2="58.0" y2="43.4"/>
<line x1="58.0" y1="601.0" x2="58.0" y2="606.0"/>
<line x1="55.5" y1="603.6" x2="60.6" y2="603.6"/>
<line x1="619.1" y1="603.6" x2="624.2" y2="603.6"/>
<line x1="128.4" y1="38.4" x2="128.4" y2="43.4"/>
<line x1="128.4" y1="601.0" x2="128.4" y2="606.0"/>
<line x1="55.5" y1="533.3" x2="60.6" y2="533.3"/>
<line x1="619.1" y1="533.3" x2="624.2" y2="533.3"/>
<line x1="198.9" y1="38.4" x2="198.9" y2="43.4"/>
<line x1="198.9" y1="601.0" x2="198.9" y2="606.0"/>
<line x1="55.5" y1="462.9" x2="60.6" y2="462.9"/>
<line x1="619.1" y1="462.9" x2="624.2" y2="462.9"/>
<line x1="269.4" y1="38.4" x2="269.4" y2="43.4"/>
<line x1="269.4" y1="601.0" x2="269.4" y2="606.0"/>
<line x1="55.5" y1="392.6" x2="60.6" y2="392.6"/>
<line x1="619.1" y1="392.6" x2="624.2" y2="392.6"/>
<line x1="339.8" y1="38.4" x2="339.8" y2="43.4"/>
<line x1="339.8" y1="601.0" x2="339.8" y2="606.0"/>
<line x1="55.5" y1="322.3" x2="60.6" y2="322.3"/>
<line x1="619.1" y1="322.3" x2="624.2" y2="322.3"/>
<line x1="410.2" y1="38.4" x2="410.2" y2="43.4"/>
<line x1="410.2" y1="601.0" x2="410.2" y2="606.0"/>
<line x1="55.5" y1="252.0" x2="60.6" y2="252.0"/>
<line x1="619.1" y1="252.0" x2="624.2" y2="252.0"/>
<line x1="480.7" y1="38.4" x2="480.7" y2="43.4"/>
<line x1="480.7" y1="601.0" x2="480.7" y2="606.0"/>
<line x1="55.5" y1="181.7" x2="60.6" y2="181.7"/>
<line x1="619.1" y1="181.7" x2="624.2" y2="181.7"/>
<line x1="551.1" y1="38.4" x2="551.1" y2="43.4"/>
<line x1="551.1" y1="601.0" x2="551.1" y2="606.0"/>
<line x1="55.5" y1="111.3" x2="60.6" y2="111.3"/>
<line x1="619.1" y1="111.3" x2="624.2" y2="111.3"/>
<line x1="621.6" y1="38.4" x2="621.6" y2="43.4"/>
<line x1="621.6" y1="601.0" x2="621.6" y2="606.0"/>
<line x1="55.5" y1="41.0" x2="60.6" y2="41.0"/>
<line x1="619.1" y1="41.0" x2="624.2" y2="41.0"/>
</g>
<path d="M58,43V86" stroke="#5aaad6" stroke-width="1.3" opacity="0.6"/>
<path d="M621.6,557V601" stroke="#d46cd4" stroke-width="1.3" opacity="0.8"/>
<path d="M233,370.1C234.3,369.8 238.4,368.2 240.7,368.4C243.1,368.6 245.8,370 247.2,371.2C248.7,372.5 248.8,374 249.4,375.8C250.1,377.5 250.9,379.5 251,381.6C251.2,383.7 250.5,386.1 250.6,388.4C250.7,390.6 251.6,393.2 251.6,395.3C251.6,397.4 251.7,400 250.6,401C249.5,401.9 246.9,401.1 245,401C243.2,400.8 241.2,400.4 239.6,399.9C238,399.3 236.5,398.8 235.2,397.6C233.9,396.5 233.1,394.5 232,393C230.9,391.4 229.5,390.3 228.7,388.4C228,386.5 227.7,383.7 227.6,381.6C227.5,379.5 227.8,377.4 228.2,375.8C228.5,374.1 229,372.8 229.8,371.8C230.7,370.9 232.5,370.4 233,370.1" fill="#14a014"/>
<g fill="none" stroke="#1a8e1a" stroke-width="1.05">
<circle cx="128.5" cy="46.9" r="2.1"/>
<circle cx="122.3" cy="69.3" r="2.1"/>
<circle cx="125.7" cy="70.4" r="2.1"/>
<circle cx="173.1" cy="64.4" r="2.1"/>
<circle cx="140.6" cy="134.4" r="2.1"/>
<circle cx="150.1" cy="138.1" r="2.1"/>
<circle cx="116.8" cy="151.9" r="2.1"/>
<circle cx="158.6" cy="150.9" r="2.1"/>
<circle cx="182.0" cy="162.9" r="2.1"/>
<circle cx="129.7" cy="180.0" r="2.1"/>
<circle cx="146.3" cy="198.4" r="2.1"/>
<circle cx="118.5" cy="203.8" r="2.1"/>
<circle cx="132.6" cy="210.0" r="2.1"/>
<circle cx="78.6" cy="210.3" r="2.1"/>
<circle cx="143.3" cy="219.0" r="2.1"/>
<circle cx="167.4" cy="214.0" r="2.1"/>
<circle cx="177.3" cy="214.0" r="2.1"/>
<circle cx="158.0" cy="285.7" r="2.1"/>
<circle cx="188.6" cy="111.7" r="2.1"/>
<circle cx="182.0" cy="131.8" r="2.1"/>
<circle cx="228.3" cy="72.8" r="2.1"/>
<circle cx="233.5" cy="76.8" r="2.1"/>
<circle cx="245.3" cy="77.9" r="2.1"/>
<circle cx="240.1" cy="86.5" r="2.1"/>
<circle cx="258.1" cy="84.5" r="2.1"/>
<circle cx="221.1" cy="93.5" r="2.1"/>
<circle cx="242.0" cy="93.3" r="2.1"/>
<circle cx="242.8" cy="98.2" r="2.1"/>
<circle cx="223.0" cy="101.8" r="2.1"/>
<circle cx="262.3" cy="103.2" r="2.1"/>
<circle cx="264.3" cy="112.4" r="2.1"/>
<circle cx="250.3" cy="113.7" r="2.1"/>
<circle cx="252.1" cy="113.1" r="2.1"/>
<circle cx="237.5" cy="115.2" r="2.1"/>
<circle cx="260.2" cy="116.8" r="2.1"/>
<circle cx="255.2" cy="121.4" r="2.1"/>
<circle cx="232.9" cy="119.6" r="2.1"/>
<circle cx="216.8" cy="123.9" r="2.1"/>
<circle cx="216.8" cy="128.6" r="2.1"/>
<circle cx="224.2" cy="126.2" r="2.1"/>
<circle cx="230.4" cy="128.9" r="2.1"/>
<circle cx="242.8" cy="126.5" r="2.1"/>
<circle cx="249.7" cy="126.2" r="2.1"/>
<circle cx="246.9" cy="130.5" r="2.1"/>
<circle cx="260.2" cy="128.4" r="2.1"/>
<circle cx="225.5" cy="133.0" r="2.1"/>
<circle cx="232.9" cy="137.1" r="2.1"/>
<circle cx="229.2" cy="139.2" r="2.1"/>
<circle cx="250.3" cy="139.8" r="2.1"/>
<circle cx="273.8" cy="136.7" r="2.1"/>
<circle cx="230.4" cy="143.8" r="2.1"/>
<circle cx="210.0" cy="147.9" r="2.1"/>
<circle cx="215.5" cy="148.5" r="2.1"/>
<circle cx="255.9" cy="146.3" r="2.1"/>
<circle cx="272.6" cy="145.8" r="2.1"/>
<circle cx="245.3" cy="149.5" r="2.1"/>
<circle cx="249.0" cy="148.7" r="2.1"/>
<circle cx="247.2" cy="153.7" r="2.1"/>
<circle cx="224.2" cy="156.2" r="2.1"/>
<circle cx="243.4" cy="155.7" r="2.1"/>
<circle cx="271.4" cy="156.6" r="2.1"/>
<circle cx="237.9" cy="166.5" r="2.1"/>
<circle cx="243.4" cy="169.6" r="2.1"/>
<circle cx="250.3" cy="167.1" r="2.1"/>
<circle cx="241.7" cy="177.6" r="2.1"/>
<circle cx="246.3" cy="178.9" r="2.1"/>
<circle cx="409.4" cy="223.1" r="2.1"/>
<circle cx="417.5" cy="265.3" r="2.1"/>
<circle cx="150.5" cy="309.2" r="2.1"/>
<circle cx="181.5" cy="308.2" r="2.1"/>
<circle cx="187.7" cy="304.5" r="2.1"/>
<circle cx="189.0" cy="303.7" r="2.1"/>
<circle cx="171.1" cy="316.6" r="2.1"/>
<circle cx="193.9" cy="319.3" r="2.1"/>
<circle cx="146.8" cy="327.3" r="2.1"/>
<circle cx="111.6" cy="339.2" r="2.1"/>
<circle cx="171.6" cy="325.8" r="2.1"/>
<circle cx="168.4" cy="330.3" r="2.1"/>
<circle cx="179.8" cy="328.8" r="2.1"/>
<circle cx="186.5" cy="329.8" r="2.1"/>
<circle cx="191.0" cy="332.3" r="2.1"/>
<circle cx="195.9" cy="332.3" r="2.1"/>
<circle cx="192.9" cy="337.2" r="2.1"/>
<circle cx="203.1" cy="327.3" r="2.1"/>
<circle cx="161.7" cy="336.2" r="2.1"/>
<circle cx="162.9" cy="335.5" r="2.1"/>
<circle cx="161.2" cy="343.4" r="2.1"/>
<circle cx="205.8" cy="337.7" r="2.1"/>
<circle cx="213.3" cy="338.5" r="2.1"/>
<circle cx="201.4" cy="345.9" r="2.1"/>
<circle cx="201.4" cy="350.9" r="2.1"/>
<circle cx="189.0" cy="347.6" r="2.1"/>
<circle cx="181.5" cy="350.9" r="2.1"/>
<circle cx="185.7" cy="350.9" r="2.1"/>
<circle cx="173.1" cy="355.8" r="2.1"/>
<circle cx="187.0" cy="360.3" r="2.1"/>
<circle cx="200.4" cy="357.6" r="2.1"/>
<circle cx="210.0" cy="360.0" r="2.1"/>
<circle cx="183.3" cy="369.0" r="2.1"/>
<circle cx="199.6" cy="370.2" r="2.1"/>
<circle cx="203.3" cy="367.5" r="2.1"/>
<circle cx="204.3" cy="373.2" r="2.1"/>
<circle cx="208.8" cy="369.5" r="2.1"/>
<circle cx="183.5" cy="376.4" r="2.1"/>
<circle cx="193.4" cy="379.4" r="2.1"/>
<circle cx="202.4" cy="379.4" r="2.1"/>
<circle cx="191.0" cy="385.1" r="2.1"/>
<circle cx="197.1" cy="388.8" r="2.1"/>
<circle cx="202.6" cy="396.3" r="2.1"/>
<circle cx="209.3" cy="398.7" r="2.1"/>
<circle cx="212.5" cy="393.0" r="2.1"/>
<circle cx="206.7" cy="329.8" r="2.1"/>
<circle cx="208.6" cy="329.1" r="2.1"/>
<circle cx="211.7" cy="326.7" r="2.1"/>
<circle cx="211.1" cy="332.2" r="2.1"/>
<circle cx="232.8" cy="330.8" r="2.1"/>
<circle cx="260.7" cy="340.1" r="2.1"/>
<circle cx="239.6" cy="338.7" r="2.1"/>
<circle cx="233.4" cy="342.8" r="2.1"/>
<circle cx="239.0" cy="344.0" r="2.1"/>
<circle cx="240.9" cy="347.5" r="2.1"/>
<circle cx="227.8" cy="347.5" r="2.1"/>
<circle cx="217.3" cy="344.0" r="2.1"/>
<circle cx="215.0" cy="348.0" r="2.1"/>
<circle cx="218.0" cy="349.0" r="2.1"/>
<circle cx="222.0" cy="351.0" r="2.1"/>
<circle cx="214.2" cy="356.8" r="2.1"/>
<circle cx="217.7" cy="346.1" r="2.1"/>
<circle cx="219.1" cy="349.5" r="2.1"/>
<circle cx="219.8" cy="352.3" r="2.1"/>
<circle cx="223.9" cy="354.3" r="2.1"/>
<circle cx="228.6" cy="353.6" r="2.1"/>
<circle cx="232.7" cy="355.0" r="2.1"/>
<circle cx="224.5" cy="357.7" r="2.1"/>
<circle cx="228.6" cy="357.7" r="2.1"/>
<circle cx="215.0" cy="361.1" r="2.1"/>
<circle cx="213.6" cy="364.5" r="2.1"/>
<circle cx="215.7" cy="364.5" r="2.1"/>
<circle cx="220.4" cy="361.8" r="2.1"/>
<circle cx="243.6" cy="359.8" r="2.1"/>
<circle cx="247.0" cy="361.8" r="2.1"/>
<circle cx="262.0" cy="365.2" r="2.1"/>
<circle cx="215.0" cy="371.3" r="2.1"/>
<circle cx="215.7" cy="372.7" r="2.1"/>
<circle cx="222.5" cy="366.6" r="2.1"/>
<circle cx="223.2" cy="370.7" r="2.1"/>
<circle cx="222.5" cy="376.1" r="2.1"/>
<circle cx="215.0" cy="378.8" r="2.1"/>
<circle cx="217.7" cy="380.2" r="2.1"/>
<circle cx="214.3" cy="382.9" r="2.1"/>
<circle cx="219.1" cy="385.7" r="2.1"/>
<circle cx="222.5" cy="388.4" r="2.1"/>
<circle cx="262.0" cy="378.8" r="2.1"/>
<circle cx="255.2" cy="377.5" r="2.1"/>
<circle cx="260.0" cy="383.6" r="2.1"/>
<circle cx="259.3" cy="387.0" r="2.1"/>
<circle cx="256.6" cy="391.8" r="2.1"/>
<circle cx="261.3" cy="391.8" r="2.1"/>
<circle cx="260.6" cy="397.2" r="2.1"/>
<circle cx="260.0" cy="402.0" r="2.1"/>
<circle cx="257.9" cy="405.4" r="2.1"/>
<circle cx="258.6" cy="408.8" r="2.1"/>
<circle cx="221.1" cy="397.2" r="2.1"/>
<circle cx="225.2" cy="397.9" r="2.1"/>
<circle cx="224.5" cy="402.7" r="2.1"/>
<circle cx="227.9" cy="402.7" r="2.1"/>
<circle cx="233.4" cy="402.0" r="2.1"/>
<circle cx="236.1" cy="408.1" r="2.1"/>
<circle cx="243.6" cy="408.8" r="2.1"/>
<circle cx="250.4" cy="410.2" r="2.1"/>
<circle cx="270.2" cy="406.8" r="2.1"/>
<circle cx="261.6" cy="401.6" r="2.1"/>
<g stroke="#14a014">
<circle cx="233.3" cy="368.9" r="2.1"/>
<circle cx="240.8" cy="378.8" r="2.1"/>
<circle cx="236.9" cy="400.0" r="2.1"/>
<circle cx="242.2" cy="380.2" r="2.1"/>
<circle cx="228.3" cy="388.8" r="2.1"/>
<circle cx="244.4" cy="379.1" r="2.1"/>
<circle cx="245.8" cy="381.7" r="2.1"/>
<circle cx="233.0" cy="388.9" r="2.1"/>
<circle cx="237.9" cy="375.8" r="2.1"/>
<circle cx="249.8" cy="394.2" r="2.1"/>
<circle cx="230.5" cy="388.4" r="2.1"/>
<circle cx="240.4" cy="402.3" r="2.1"/>
<circle cx="247.5" cy="375.2" r="2.1"/>
<circle cx="236.6" cy="396.8" r="2.1"/>
<circle cx="227.3" cy="384.5" r="2.1"/>
<circle cx="248.8" cy="388.4" r="2.1"/>
<circle cx="246.3" cy="389.3" r="2.1"/>
<circle cx="242.3" cy="383.0" r="2.1"/>
<circle cx="238.6" cy="392.6" r="2.1"/>
<circle cx="250.8" cy="375.1" r="2.1"/>
<circle cx="235.5" cy="392.8" r="2.1"/>
<circle cx="226.5" cy="373.4" r="2.1"/>
<circle cx="250.7" cy="401.7" r="2.1"/>
<circle cx="231.7" cy="381.1" r="2.1"/>
<circle cx="228.2" cy="372.7" r="2.1"/>
<circle cx="230.2" cy="384.3" r="2.1"/>
<circle cx="242.6" cy="374.1" r="2.1"/>
<circle cx="234.9" cy="388.1" r="2.1"/>
<circle cx="240.0" cy="390.4" r="2.1"/>
<circle cx="253.5" cy="397.9" r="2.1"/>
<circle cx="252.6" cy="398.7" r="2.1"/>
<circle cx="235.7" cy="380.4" r="2.1"/>
<circle cx="229.3" cy="369.5" r="2.1"/>
<circle cx="225.6" cy="378.7" r="2.1"/>
<circle cx="243.5" cy="368.8" r="2.1"/>
<circle cx="230.8" cy="378.0" r="2.1"/>
<circle cx="234.7" cy="367.7" r="2.1"/>
<circle cx="238.3" cy="384.3" r="2.1"/>
<circle cx="234.0" cy="374.2" r="2.1"/>
<circle cx="240.5" cy="368.7" r="2.1"/>
<circle cx="252.2" cy="394.0" r="2.1"/>
<circle cx="231.1" cy="378.9" r="2.1"/>
<circle cx="240.6" cy="397.8" r="2.1"/>
<circle cx="233.5" cy="372.3" r="2.1"/>
<circle cx="251.8" cy="399.1" r="2.1"/>
<circle cx="250.6" cy="396.0" r="2.1"/>
<circle cx="229.9" cy="385.8" r="2.1"/>
<circle cx="231.1" cy="393.9" r="2.1"/>
<circle cx="229.7" cy="372.4" r="2.1"/>
<circle cx="228.9" cy="371.4" r="2.1"/>
<circle cx="251.4" cy="384.1" r="2.1"/>
<circle cx="244.9" cy="398.8" r="2.1"/>
<circle cx="253.8" cy="398.0" r="2.1"/>
<circle cx="248.3" cy="384.0" r="2.1"/>
<circle cx="247.4" cy="369.8" r="2.1"/>
<circle cx="234.3" cy="387.2" r="2.1"/>
<circle cx="230.8" cy="375.5" r="2.1"/>
<circle cx="230.4" cy="389.0" r="2.1"/>
<circle cx="231.1" cy="381.3" r="2.1"/>
<circle cx="234.4" cy="383.1" r="2.1"/>
<circle cx="239.6" cy="386.5" r="2.1"/>
<circle cx="237.4" cy="370.4" r="2.1"/>
<circle cx="228.0" cy="383.8" r="2.1"/>
<circle cx="247.4" cy="387.6" r="2.1"/>
<circle cx="233.4" cy="385.8" r="2.1"/>
<circle cx="241.4" cy="398.1" r="2.1"/>
<circle cx="230.7" cy="374.7" r="2.1"/>
<circle cx="249.0" cy="385.4" r="2.1"/>
<circle cx="241.7" cy="397.0" r="2.1"/>
<circle cx="243.4" cy="385.3" r="2.1"/>
<circle cx="239.9" cy="393.9" r="2.1"/>
<circle cx="237.8" cy="386.5" r="2.1"/>
<circle cx="246.5" cy="402.3" r="2.1"/>
<circle cx="226.3" cy="382.3" r="2.1"/>
<circle cx="249.4" cy="403.3" r="2.1"/>
<circle cx="245.1" cy="368.6" r="2.1"/>
<circle cx="235.9" cy="384.4" r="2.1"/>
<circle cx="227.7" cy="381.9" r="2.1"/>
<circle cx="240.0" cy="377.6" r="2.1"/>
<circle cx="228.9" cy="376.7" r="2.1"/>
<circle cx="241.4" cy="382.3" r="2.1"/>
<circle cx="243.8" cy="385.6" r="2.1"/>
<circle cx="231.5" cy="368.0" r="2.1"/>
<circle cx="250.7" cy="373.9" r="2.1"/>
<circle cx="242.0" cy="394.2" r="2.1"/>
<circle cx="246.1" cy="381.6" r="2.1"/>
<circle cx="244.2" cy="398.9" r="2.1"/>
<circle cx="237.9" cy="377.6" r="2.1"/>
<circle cx="231.4" cy="367.9" r="2.1"/>
<circle cx="240.4" cy="373.0" r="2.1"/>
<circle cx="232.9" cy="376.0" r="2.1"/>
<circle cx="248.6" cy="375.3" r="2.1"/>
<circle cx="239.5" cy="370.2" r="2.1"/>
<circle cx="247.7" cy="387.3" r="2.1"/>
<circle cx="228.6" cy="383.8" r="2.1"/>
<circle cx="250.7" cy="381.9" r="2.1"/>
<circle cx="239.3" cy="400.4" r="2.1"/>
<circle cx="235.8" cy="385.3" r="2.1"/>
<circle cx="246.7" cy="391.3" r="2.1"/>
<circle cx="236.2" cy="378.0" r="2.1"/>
<circle cx="230.9" cy="369.5" r="2.1"/>
<circle cx="252.5" cy="392.8" r="2.1"/>
<circle cx="231.9" cy="373.1" r="2.1"/>
<circle cx="232.3" cy="383.1" r="2.1"/>
<circle cx="227.5" cy="382.5" r="2.1"/>
<circle cx="232.8" cy="378.4" r="2.1"/>
<circle cx="238.6" cy="385.1" r="2.1"/>
<circle cx="229.0" cy="385.2" r="2.1"/>
<circle cx="225.1" cy="380.4" r="2.1"/>
<circle cx="232.6" cy="372.7" r="2.1"/>
<circle cx="242.5" cy="386.3" r="2.1"/>
<circle cx="248.3" cy="392.2" r="2.1"/>
<circle cx="247.1" cy="402.4" r="2.1"/>
<circle cx="235.6" cy="377.0" r="2.1"/>
<circle cx="247.3" cy="391.6" r="2.1"/>
<circle cx="247.7" cy="399.4" r="2.1"/>
<circle cx="226.9" cy="386.1" r="2.1"/>
<circle cx="239.7" cy="400.4" r="2.1"/>
<circle cx="250.2" cy="400.0" r="2.1"/>
<circle cx="245.9" cy="393.9" r="2.1"/>
<circle cx="226.7" cy="378.6" r="2.1"/>
<circle cx="241.5" cy="390.9" r="2.1"/>
<circle cx="243.9" cy="393.3" r="2.1"/>
<circle cx="249.9" cy="396.4" r="2.1"/>
<circle cx="239.6" cy="386.6" r="2.1"/>
<circle cx="247.8" cy="373.6" r="2.1"/>
<circle cx="247.5" cy="371.4" r="2.1"/>
<circle cx="239.3" cy="379.6" r="2.1"/>
<circle cx="238.8" cy="393.5" r="2.1"/>
<circle cx="248.8" cy="390.4" r="2.1"/>
<circle cx="227.2" cy="373.7" r="2.1"/>
<circle cx="248.0" cy="376.0" r="2.1"/>
<circle cx="245.5" cy="393.8" r="2.1"/>
<circle cx="245.6" cy="375.4" r="2.1"/>
<circle cx="240.1" cy="383.4" r="2.1"/>
<circle cx="238.3" cy="367.5" r="2.1"/>
<circle cx="237.7" cy="374.4" r="2.1"/>
<circle cx="229.4" cy="388.7" r="2.1"/>
<circle cx="227.0" cy="386.1" r="2.1"/>
<circle cx="250.7" cy="385.4" r="2.1"/>
<circle cx="253.0" cy="394.4" r="2.1"/>
<circle cx="237.8" cy="375.9" r="2.1"/>
<circle cx="226.9" cy="377.8" r="2.1"/>
<circle cx="235.0" cy="380.1" r="2.1"/>
<circle cx="234.6" cy="381.7" r="2.1"/>
<circle cx="230.7" cy="374.2" r="2.1"/>
<circle cx="239.9" cy="370.7" r="2.1"/>
<circle cx="252.9" cy="399.4" r="2.1"/>
<circle cx="247.6" cy="382.7" r="2.1"/>
<circle cx="248.3" cy="391.6" r="2.1"/>
<circle cx="238.5" cy="377.8" r="2.1"/>
<circle cx="232.4" cy="396.0" r="2.1"/>
<circle cx="245.0" cy="375.8" r="2.1"/>
<circle cx="241.5" cy="380.1" r="2.1"/>
<circle cx="239.4" cy="372.1" r="2.1"/>
<circle cx="237.7" cy="368.4" r="2.1"/>
<circle cx="230.4" cy="373.9" r="2.1"/>
<circle cx="248.2" cy="381.0" r="2.1"/>
<circle cx="236.5" cy="386.1" r="2.1"/>
<circle cx="235.2" cy="377.6" r="2.1"/>
<circle cx="235.2" cy="360.8" r="2.1"/>
<circle cx="248.0" cy="359.5" r="2.1"/>
<circle cx="236.7" cy="361.2" r="2.1"/>
<circle cx="228.0" cy="360.2" r="2.1"/>
<circle cx="240.0" cy="364.1" r="2.1"/>
<circle cx="225.5" cy="357.2" r="2.1"/>
<circle cx="225.4" cy="364.3" r="2.1"/>
<circle cx="241.7" cy="353.6" r="2.1"/>
<circle cx="249.5" cy="366.5" r="2.1"/>
<circle cx="240.7" cy="361.6" r="2.1"/>
<circle cx="227.3" cy="353.2" r="2.1"/>
<circle cx="237.3" cy="353.8" r="2.1"/>
<circle cx="228.1" cy="356.4" r="2.1"/>
<circle cx="223.8" cy="359.5" r="2.1"/>
<circle cx="234.9" cy="364.8" r="2.1"/>
<circle cx="237.0" cy="362.0" r="2.1"/>
<circle cx="236.5" cy="362.3" r="2.1"/>
<circle cx="235.3" cy="356.9" r="2.1"/>
<circle cx="249.9" cy="366.9" r="2.1"/>
<circle cx="245.7" cy="362.9" r="2.1"/>
<circle cx="231.5" cy="356.2" r="2.1"/>
<circle cx="230.8" cy="354.0" r="2.1"/>
</g>
<rect x="233.5" y="92.9" width="3.8" height="3.8"/>
<rect x="236.6" y="93.5" width="3.8" height="3.8"/>
<rect x="216.7" y="98.8" width="3.8" height="3.8"/>
<rect x="228.9" y="99.1" width="3.8" height="3.8"/>
<rect x="236.6" y="98.8" width="3.8" height="3.8"/>
<rect x="242.5" y="102.2" width="3.8" height="3.8"/>
<rect x="255.4" y="108.7" width="3.8" height="3.8"/>
<rect x="231.0" y="120.8" width="3.8" height="3.8"/>
<rect x="233.5" y="129.2" width="3.8" height="3.8"/>
<rect x="239.1" y="132.9" width="3.8" height="3.8"/>
<rect x="242.8" y="132.9" width="3.8" height="3.8"/>
<rect x="238.4" y="142.6" width="3.8" height="3.8"/>
<rect x="230.6" y="153.4" width="3.8" height="3.8"/>
<rect x="238.4" y="153.4" width="3.8" height="3.8"/>
<rect x="227.3" y="158.4" width="3.8" height="3.8"/>
<rect x="217.4" y="162.5" width="3.8" height="3.8"/>
<rect x="236.6" y="160.2" width="3.8" height="3.8"/>
<rect x="235.6" y="314.2" width="3.8" height="3.8"/>
<rect x="244.5" y="346.5" width="3.8" height="3.8"/>
<rect x="250.7" y="352.3" width="3.8" height="3.8"/>
<rect x="236.9" y="357.9" width="3.8" height="3.8"/>
<path d="M65.8,117.2L67.8,120.9L63.8,120.9Z"/>
<path d="M220.5,81.5L222.5,85.2L218.5,85.2Z"/>
<path d="M227.9,86.1L229.9,89.8L225.9,89.8Z"/>
<path d="M270.5,108.8L272.5,112.5L268.5,112.5Z"/>
<path d="M208.1,140.4L210.1,144.1L206.1,144.1Z"/>
<path d="M445.8,334.2L447.8,337.9L443.8,337.9Z"/>
<path d="M218.9,582.2L220.9,585.9L216.9,585.9Z"/>
<path d="M233.4,346.6L235.4,350.3L231.4,350.3Z"/>
<path d="M236.1,406.0L238.1,409.7L234.1,409.7Z"/>
<path d="M254.5,419.7L256.5,423.4L252.5,423.4Z"/>
<path d="M257.9,421.0L259.9,424.7L255.9,424.7Z"/>
</g>
<g fill="none" stroke="#a62a2a" stroke-width="0.95">
<circle cx="310.7" cy="168.0" r="2.1"/>
<circle cx="261.8" cy="182.1" r="2.1"/>
<circle cx="369.8" cy="187.1" r="2.1"/>
<circle cx="607.5" cy="271.7" r="2.1"/>
<path d="M477.2,53.4L479.2,57.1L475.2,57.1Z"/>
<path d="M475.8,70.9L477.8,74.6L473.8,74.6Z"/>
<path d="M557.0,339.8L559.0,343.5L555.0,343.5Z"/>
</g>
<rect x="511.8" y="454.8" width="20.6" height="12.8" fill="#00a000"/>
<rect x="511.8" y="470.8" width="20.6" height="12.8" fill="#ae0000"/>
<rect x="511.8" y="486.8" width="20.6" height="12.8" fill="#00aaff"/>
<rect x="511.8" y="502.8" width="20.6" height="12.8" fill="#ff00ff"/>
</svg>
<div class="t" style="left:103.00px;top:0.10px;font-size:20.5px;letter-spacing:0.90px">Ramachandran plot (AF-Q16572-F1-model_v2)</div>
<div class="t" style="left:22.20px;top:31.20px;font-size:18px;letter-spacing:1.6px">180</div>
<div class="t" style="left:23.60px;top:104.80px;font-size:18px;letter-spacing:1.6px">135</div>
<div class="t" style="left:32.20px;top:173.40px;font-size:18px;letter-spacing:1.6px">90</div>
<div class="t" style="left:33.20px;top:243.40px;font-size:18px;letter-spacing:1.6px">45</div>
<div class="t" style="left:43.20px;top:313.60px;font-size:18px;letter-spacing:1.6px">0</div>
<div class="t" style="left:26.20px;top:384.60px;font-size:18px;letter-spacing:1.6px">-45</div>
<div class="t" style="left:27.00px;top:455.00px;font-size:18px;letter-spacing:1.6px">-90</div>
<div class="t" style="left:16.60px;top:524.60px;font-size:18px;letter-spacing:1.6px">-135</div>
<div class="t" style="left:17.60px;top:591.80px;font-size:18px;letter-spacing:1.6px">-180</div>
<div class="t" style="left:36.00px;top:609.00px;font-size:18px;letter-spacing:1.6px">-180</div>
<div class="t" style="left:106.40px;top:610.00px;font-size:18px;letter-spacing:1.6px">-135</div>
<div class="t" style="left:182.00px;top:609.00px;font-size:18px;letter-spacing:1.6px">-90</div>
<div class="t" style="left:253.20px;top:609.00px;font-size:18px;letter-spacing:1.6px">-45</div>
<div class="t" style="left:335.60px;top:608.80px;font-size:18px;letter-spacing:1.6px">0</div>
<div class="t" style="left:399.80px;top:610.40px;font-size:18px;letter-spacing:1.6px">45</div>
<div class="t" style="left:471.80px;top:610.40px;font-size:18px;letter-spacing:1.6px">90</div>
<div class="t" style="left:535.10px;top:608.80px;font-size:18px;letter-spacing:1.6px">135</div>
<div class="t" style="left:607.00px;top:606.80px;font-size:18px;letter-spacing:1.6px">180</div>
<div class="t" style="left:306.00px;top:631.00px;font-size:21px;letter-spacing:0.6px">Phi (&Phi;)</div>
<div class="t" style="left:6.00px;top:357.00px;font-size:21px;letter-spacing:0.8px;transform:rotate(-90deg);transform-origin:0 0">PSI (&Psi;)</div>
<div class="lg" style="left:533.30px;top:454.40px">Inside</div>
<div class="lg" style="left:533.30px;top:470.60px">Outside</div>
<div class="lg" style="left:533.30px;top:486.40px">Hardsphere</div>
<div class="lg" style="left:533.30px;top:502.60px">Overlap</div>
</body></html>
